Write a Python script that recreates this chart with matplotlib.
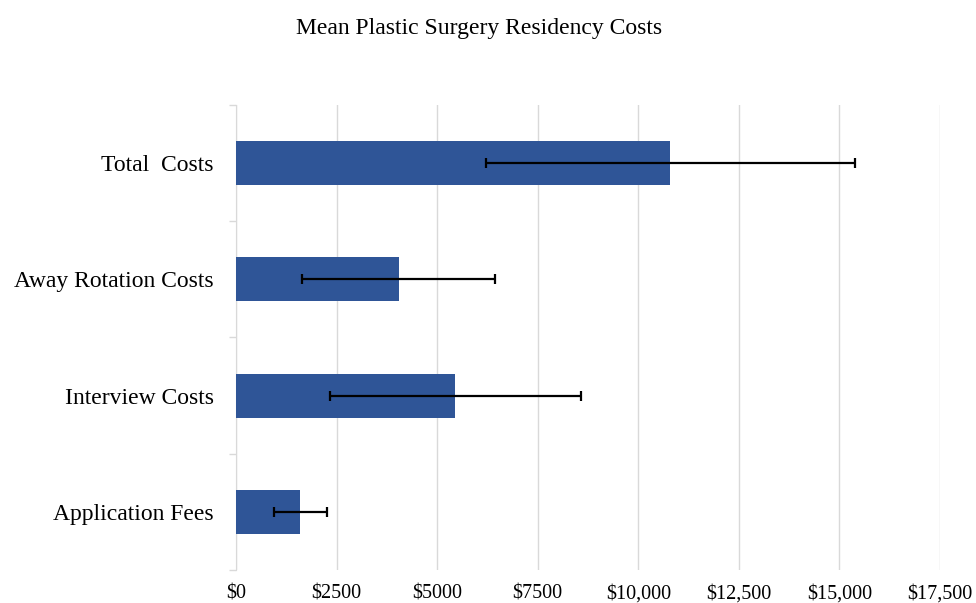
import numpy as np
import matplotlib.pyplot as plt
from matplotlib.ticker import FixedLocator

# data (bottom to top)
categories = ['Application Fees', 'Interview Costs', 'Away Rotation Costs', 'Total  Costs']
mean_cost = [1600, 5450, 4040, 10800]
err_cost = [655, 3120, 2400, 4580]
tick_vals = [0, 2500, 5000, 7500, 10000, 12500, 15000, 17500]
tick_labels = ['$0', '$2500', '$5000', '$7500', '$10,000', '$12,500', '$15,000', '$17,500']

plt.rcParams['font.family'] = ['Liberation Serif', 'DejaVu Serif']

fig = plt.figure(figsize=(9.76, 6.03), dpi=100)
ax = fig.add_axes([0.2418, 0.0547, 0.7213, 0.7713])

y = np.arange(len(categories))
ax.barh(y, mean_cost, height=0.38, color='#2F5597', zorder=3)
ax.errorbar(mean_cost, y, xerr=err_cost, fmt='none', ecolor='black',
            elinewidth=1.6, capsize=3.5, capthick=1.6, zorder=4)

ax.set_xlim(0, 17500)
ax.set_ylim(-0.5, len(categories) - 0.5)
ax.set_xticks(tick_vals)
ax.set_xticklabels(tick_labels, fontsize=14.5)
ax.tick_params(axis='x', length=0, pad=10.5)

ax.set_yticks(y)
ax.set_yticklabels(categories, fontsize=17)
ax.tick_params(axis='y', which='major', length=0, pad=16)
ax.yaxis.set_minor_locator(FixedLocator(np.arange(-0.5, len(categories), 1.0)))
ax.tick_params(axis='y', which='minor', length=5, color='#d9d9d9', width=1)

ax.grid(axis='x', color='#d9d9d9', linewidth=1, zorder=0)
for s in ['top', 'right', 'bottom']:
    ax.spines[s].set_visible(False)
ax.spines['left'].set_color('#d9d9d9')

fig.text(0.491, 0.953, 'Mean Plastic Surgery Residency Costs', ha='center', va='center', fontsize=17)

fig.savefig('out.png', dpi=100)
